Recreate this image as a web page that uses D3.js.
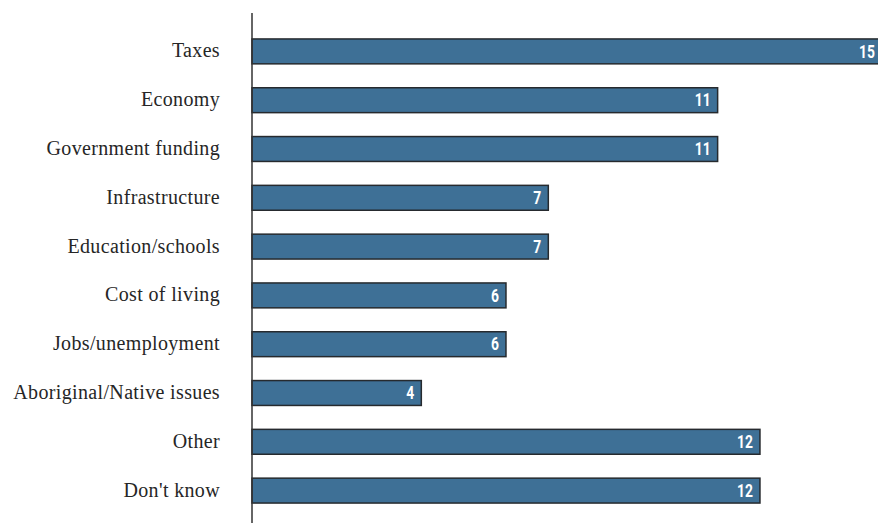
<!DOCTYPE html>
<html>
<head>
<meta charset="utf-8">
<script src="https://cdn.jsdelivr.net/npm/d3@7"></script>
<style>
  html, body { margin: 0; padding: 0; background: #fff; overflow: hidden; }
  svg { display: block; }
</style>
</head>
<body>
<svg id="chart" width="878" height="523"></svg>
<script>
// Most important issues (%)
const categories = [
  "Taxes",
  "Economy",
  "Government funding",
  "Infrastructure",
  "Education/schools",
  "Cost of living",
  "Jobs/unemployment",
  "Aboriginal/Native issues",
  "Other",
  "Don't know"
];
const values = [15, 11, 11, 7, 7, 6, 6, 4, 12, 12];

const width = 878, height = 523;
const left = 252;
const unit = 42.33; // pixels per percentage point

const svg = d3.select("#chart");

const x = d3.scaleLinear()
  .domain([0, 15])
  .range([left, left + 15 * unit]);

const y = d3.scaleBand()
  .domain(categories)
  .range([27, 515])
  .paddingInner(0.49)
  .paddingOuter(0.245);

const data = categories.map((c, i) => ({ cat: c, val: values[i] }));

// bars
svg.append("g")
  .selectAll("rect")
  .data(data)
  .join("rect")
  .attr("x", x(0))
  .attr("y", d => y(d.cat))
  .attr("width", d => x(d.val) - x(0))
  .attr("height", y.bandwidth())
  .attr("fill", "#3e7096")
  .attr("stroke", "#262a2e")
  .attr("stroke-width", 1.5);

// value labels inside bar ends (condensed bold)
svg.append("g")
  .selectAll("text")
  .data(data)
  .join("text")
  .attr("transform", d =>
    `translate(${Math.min(x(d.val) - 7, width - 3)},${y(d.cat) + y.bandwidth() / 2}) scale(0.75,1)`)
  .attr("dy", "0.33em")
  .attr("text-anchor", "end")
  .attr("fill", "#ffffff")
  .attr("font-family", "Roboto, 'DejaVu Sans', sans-serif")
  .attr("font-weight", "bold")
  .attr("font-size", 18.5)
  .text(d => d.val);

// category axis
const axis = svg.append("g")
  .attr("transform", `translate(${left},0)`)
  .call(d3.axisLeft(y).tickSize(0).tickPadding(32));
axis.select(".domain").remove();
axis.selectAll("text")
  .attr("font-family", "'Liberation Serif', 'DejaVu Serif', serif")
  .attr("font-size", 20)
  .attr("letter-spacing", 0.35)
  .attr("fill", "#262626")
  .attr("dy", "0.3em");

svg.append("line")
  .attr("x1", left).attr("x2", left)
  .attr("y1", 13).attr("y2", height)
  .attr("stroke", "#333")
  .attr("stroke-width", 1.5);
</script>
</body>
</html>
